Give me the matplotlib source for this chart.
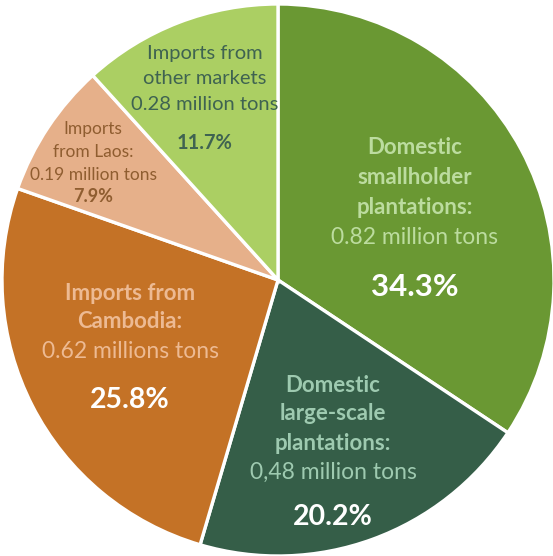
import matplotlib.pyplot as plt

plt.rcParams['font.family'] = ['Lato', 'DejaVu Sans']

# rubber supply sources, clockwise from 12 o'clock
shares = [34.3, 20.2, 25.8, 7.9, 11.7]
headings = [['Domestic', 'smallholder', 'plantations:'],
            ['Domestic', 'large-scale', 'plantations:'],
            ['Imports from', 'Cambodia:'],
            ['Imports', 'from Laos:'],
            ['Imports from', 'other markets']]
volumes = ['0.82 million tons', '0,48 million tons', '0.62 millions tons',
           '0.19 million tons', '0.28 million tons']
colors = ['#6a9833', '#355e48', '#c47226', '#e6b08a', '#abcf63']

# label styling per slice
head_colors = ['#bcdc9f', '#9ecab0', '#edba93', '#8f5d30', '#3f6351']
vol_colors = ['#bcdc9f', '#9ecab0', '#edba93', '#8f5d30', '#3f6351']
pct_colors = ['white', 'white', 'white', '#8f5d30', '#3f6351']
head_bold = [True, True, True, False, False]
head_size = [16, 16, 16, 12.5, 14.5]
vol_size = [16.5, 16.5, 16.5, 12.5, 14.5]
pct_size = [22.5, 20.5, 20.5, 13, 14.5]
# label block anchor (x) and line y positions, in pixels of the 553x556 canvas
lab_x = [415, 333, 130, 93, 205]
lab_y = [[148, 178, 208, 237, 287],
         [385, 414, 443, 472, 517],
         [293, 322, 352, 400],
         [129, 152, 175, 197],
         [53, 79, 105, 143]]

W, H = 553, 556
cx, cy, R = 278, 280, 276

fig = plt.figure(figsize=(W / 100, H / 100), dpi=100)
ax = fig.add_axes([0, 0, 1, 1])
ax.pie(shares, colors=colors, startangle=90, counterclock=False,
       radius=1, center=(0, 0),
       wedgeprops=dict(edgecolor='white', linewidth=2.4))
ax.set_xlim(-cx / R, (W - cx) / R)
ax.set_ylim(-(H - cy) / R, cy / R)
ax.set_aspect('equal')
ax.axis('off')


def px(x, y):
    return (x - cx) / R, (cy - y) / R


for i, share in enumerate(shares):
    ys = lab_y[i]
    n = len(headings[i])
    for j, line in enumerate(headings[i]):
        ax.text(*px(lab_x[i], ys[j]), line, ha='center', va='center',
                fontsize=head_size[i], color=head_colors[i],
                fontweight='bold' if head_bold[i] else 'normal')
    ax.text(*px(lab_x[i], ys[n]), volumes[i], ha='center', va='center',
            fontsize=vol_size[i], color=vol_colors[i])
    ax.text(*px(lab_x[i], ys[n + 1]), f'{share}%', ha='center', va='center',
            fontsize=pct_size[i], color=pct_colors[i], fontweight='bold')

fig.savefig('out.png', dpi=100)
